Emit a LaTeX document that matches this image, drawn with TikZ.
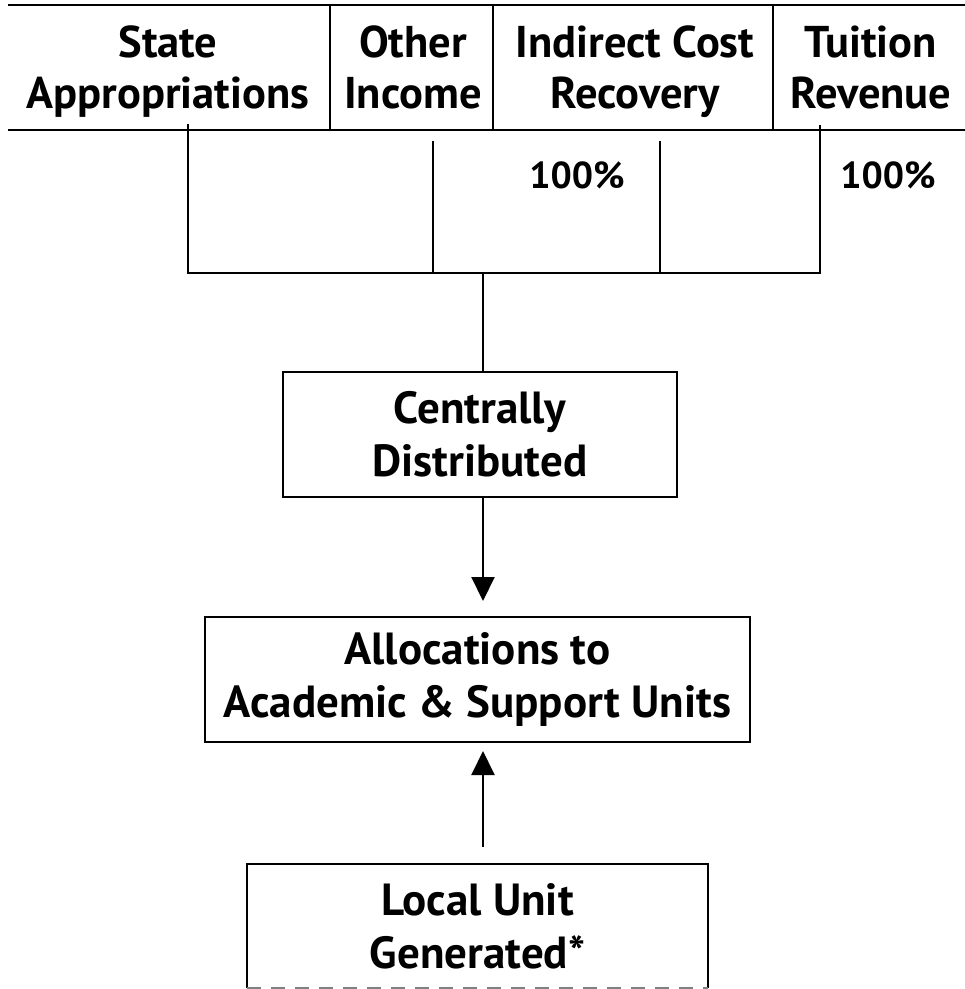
\documentclass[tikz,border=0pt]{standalone}
\usepackage{fontspec}
\setmainfont{PT Sans}
\usetikzlibrary{arrows.meta}
\begin{document}
\begin{tikzpicture}[x=1pt,y=-1pt,
  rule/.style={line width=2pt, line cap=rect},
  headtext/.style={font=\bfseries\fontsize{44.5}{51}\selectfont, align=center, inner sep=0pt, anchor=base},
  pct/.style={font=\bfseries\fontsize{37.5}{40}\selectfont, inner sep=0pt, anchor=base},
  flowbox/.style={draw, line width=2pt, inner sep=0pt, align=center,
    font=\bfseries\fontsize{45}{53}\selectfont},
  flow/.style={line width=2pt, -{Triangle[length=24pt,width=23pt]}}]
\useasboundingbox (0,0) rectangle (965,989);

% header band with four revenue sources
\coordinate (hTL) at (9,5);
\coordinate (hTR) at (965,5);
\coordinate (hBL) at (9,130);
\coordinate (hBR) at (965,130);
\draw[rule] (hTL) -- (hTR);
\draw[rule] (hBL) -- (hBR);
\coordinate (d1) at (330,5);
\coordinate (d2) at (493,5);
\coordinate (d3) at (773,5);
\draw[line width=1.8pt] (d1) -- (d1 |- hBL);
\draw[line width=1.8pt] (d2) -- (d2 |- hBL);
\draw[line width=1.8pt] (d3) -- (d3 |- hBL);

\node[headtext] (hs) at (168,108) {State\\Appropriations};
\node[headtext] (ho) at (413,108) {Other\\Income};
\node[headtext] (hi) at (635,108) {Indirect Cost\\Recovery};
\node[headtext] (ht) at (871,108) {Tuition\\Revenue};

\node[pct] (p1) at (577,188) {100\%};
\node[pct] (p2) at (888,188) {100\%};

% flow boxes
\node[flowbox, minimum width=394pt, minimum height=125pt] (central) at (480,434.5)
  {Centrally\\Distributed};
\node[flowbox, minimum width=545pt, minimum height=125pt] (alloc) at (477.5,679.5)
  {Allocations to\\Academic \& Support Units};
\node[flowbox, draw=none, minimum width=459pt, minimum height=122pt] (local) at (477.5,926)
  {Local Unit\\Generated*};
\draw[line width=2pt] (local.south west) -- (local.north west) -- (local.north east) -- (local.south east);
\draw[line width=1.2pt, gray, dash pattern=on 14pt off 10pt] (local.south west) -- (local.south east);

% collector of the four sources
\coordinate (sTop) at (188,125);
\coordinate (oTop) at (433,142);
\coordinate (iTop) at (660,142);
\coordinate (tTop) at (820,126);
\coordinate (bar) at (483,273);
\draw[rule] (sTop) |- (bar) -| (tTop);
\draw[rule] (oTop) -- (oTop |- bar);
\draw[rule] (iTop) -- (iTop |- bar);
\draw[rule] (bar) -- (bar |- central.north);

% arrows into the allocations box
\draw[flow, shorten >=15pt] (bar |- central.south) -- (bar |- alloc.north);
\draw[flow, shorten <=17pt, shorten >=8pt] (bar |- local.north) -- (bar |- alloc.south);
\end{tikzpicture}
\end{document}
